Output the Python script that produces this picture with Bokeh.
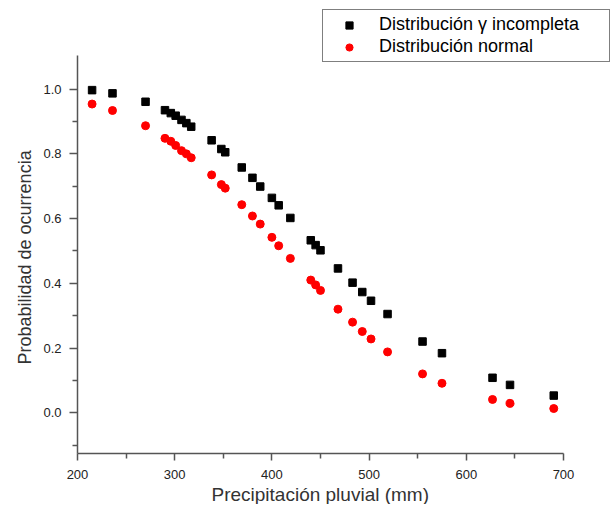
from bokeh.plotting import figure
from bokeh.models import (ColumnDataSource, Legend, LegendItem, FixedTicker,
                          PrintfTickFormatter, Range1d, Title)
from bokeh.embed import file_html
from bokeh.resources import INLINE

# Precipitación pluvial (mm)
precip = [215, 236, 270, 290, 296, 301, 307, 312, 317, 338, 348, 352, 369,
          380, 388, 400, 407, 419, 440, 445, 450, 468, 483, 493, 502, 519,
          555, 575, 627, 645, 690]
# Probabilidad - distribución gamma incompleta
gamma_prob = [0.997, 0.987, 0.961, 0.935, 0.926, 0.918, 0.905, 0.895, 0.884,
              0.842, 0.815, 0.805, 0.758, 0.726, 0.699, 0.664, 0.641, 0.602,
              0.533, 0.518, 0.502, 0.446, 0.402, 0.373, 0.346, 0.305, 0.220,
              0.184, 0.108, 0.086, 0.053]
# Probabilidad - distribución normal
normal_prob = [0.954, 0.934, 0.887, 0.848, 0.839, 0.826, 0.810, 0.800, 0.788,
               0.735, 0.705, 0.694, 0.643, 0.608, 0.583, 0.542, 0.516, 0.477,
               0.410, 0.395, 0.378, 0.320, 0.280, 0.251, 0.228, 0.188, 0.120,
               0.091, 0.041, 0.029, 0.013]

x_ticks = [200, 300, 400, 500, 600, 700]
x_minor = [250, 350, 450, 550, 650]
y_ticks = [0.0, 0.2, 0.4, 0.6, 0.8, 1.0]
y_minor = [-0.1, 0.1, 0.3, 0.5, 0.7, 0.9]
x_bounds = (200, 700)
y_bounds = (-0.126, 1.105)

FONT = "Liberation Sans"

src = ColumnDataSource(dict(x=precip, g=gamma_prob, n=normal_prob))

p = figure(width=614, height=504, output_backend="svg", toolbar_location=None,
           x_range=Range1d(200, 752.5), y_range=Range1d(-0.126, 1.274),
           min_border_left=77, min_border_right=0, min_border_top=0,
           min_border_bottom=49)
p.outline_line_color = None
p.xgrid.visible = False
p.ygrid.visible = False
p.background_fill_color = "white"
p.border_fill_color = "white"

r_g = p.scatter("x", "g", source=src, marker="square", size=7.5,
                fill_color="black", line_color="black")
r_n = p.scatter("x", "n", source=src, marker="circle", size=8,
                fill_color="#ff0000", line_color="#ff0000")

for ax in (p.xaxis[0], p.yaxis[0]):
    ax.axis_line_color = "#555555"
    ax.axis_line_width = 1.5
    ax.major_tick_line_color = "#555555"
    ax.minor_tick_line_color = "#555555"
    ax.major_tick_line_width = 1.5
    ax.minor_tick_line_width = 1.5
    ax.major_tick_in = 0
    ax.minor_tick_in = 0
    ax.major_label_text_font = FONT
    ax.major_label_text_font_size = "13px"
    ax.major_label_text_color = "#222222"

p.xaxis[0].bounds = x_bounds
p.yaxis[0].bounds = y_bounds
p.xaxis[0].major_tick_out = 7
p.xaxis[0].minor_tick_out = 5
p.yaxis[0].major_tick_out = 8
p.yaxis[0].minor_tick_out = 5
p.xaxis[0].ticker = FixedTicker(ticks=x_ticks, minor_ticks=x_minor)
p.yaxis[0].ticker = FixedTicker(ticks=y_ticks, minor_ticks=y_minor)
p.yaxis[0].formatter = PrintfTickFormatter(format="%.1f")
p.xaxis[0].major_label_standoff = 9
p.yaxis[0].major_label_standoff = 8

xt = Title(text="Precipitación pluvial (mm)", align="left", offset=134,
           standoff=0, text_font=FONT, text_font_size="19px",
           text_font_style="normal", text_color="#333333")
yt = Title(text="Probabilidad de ocurrencia", align="left", offset=89,
           standoff=11, text_font=FONT, text_font_size="18px",
           text_font_style="normal", text_color="#333333")
p.add_layout(xt, "below")
p.add_layout(yt, "left")

legend = Legend(items=[
    LegendItem(label="Distribución γ incompleta", renderers=[r_g]),
    LegendItem(label="Distribución normal", renderers=[r_n]),
], location=(245, 391))
legend.label_text_font = FONT
legend.label_text_font_size = "18px"
legend.label_text_color = "black"
legend.border_line_color = "black"
legend.border_line_width = 1
legend.background_fill_alpha = 1
legend.glyph_width = 44
legend.glyph_height = 18
legend.spacing = 1
legend.padding = 4
legend.margin = 0
legend.label_standoff = 8
legend.label_height = 18
legend.label_width = 226
p.add_layout(legend, "center")

open("out.html", "w").write(file_html(p, INLINE))
